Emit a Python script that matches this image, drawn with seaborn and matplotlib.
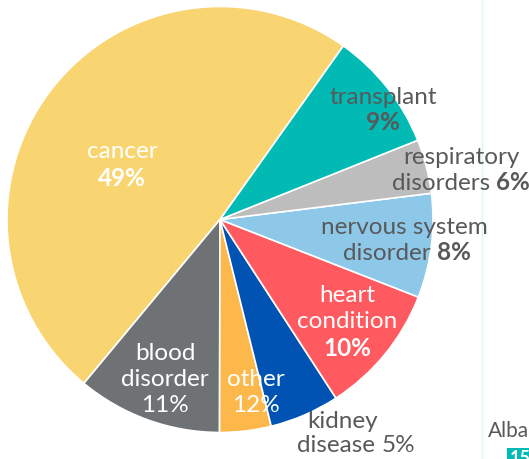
import matplotlib
matplotlib.use("Agg")
import matplotlib.pyplot as plt
from matplotlib.patches import Rectangle
import seaborn as sns

# slice sizes as measured from the wedge angles (counter-clockwise from cancer)
categories = ["cancer", "blood disorder", "other", "kidney disease",
              "heart condition", "nervous system disorder",
              "respiratory disorders", "transplant"]
shares = [48.8, 11.0, 3.9, 5.3, 9.9, 7.9, 4.1, 9.1]
# percentages as printed on the chart
printed = ["49%", "11%", "12%", "5%", "10%", "8%", "6%", "9%"]
colors = ["#F9D572", "#6F7274", "#FDB84C", "#0053B3",
          "#FF5A5F", "#8EC8E8", "#BDBDBD", "#00BAB3"]

W, H = 529, 460
CX, CY, R = 220, 220.5, 213  # pie centre / radius in pixels


def px(x, y):
    # pixel (from top-left) -> data coords of the unit pie
    return (x - CX) / R, (CY - y) / R


sns.set_theme(style="white")
plt.rcParams["font.family"] = ["Lato", "DejaVu Sans"]

fig = plt.figure(figsize=(W / 100, H / 100), dpi=100)
ax = fig.add_axes([0, 0, 1, 1])
ax.pie(shares, colors=colors, startangle=54.6, counterclock=True,
       wedgeprops=dict(edgecolor="white", linewidth=1.2))
ax.set_xlim(px(0, 0)[0], px(W, 0)[0])
ax.set_ylim(px(0, H)[1], px(0, 0)[1])
ax.set_aspect("equal")
ax.axis("off")

dark = "#58595B"
fs = 17.5


def label(lines, color):
    # lines: list of (x, y, [(text, bold), ...])
    for x, y, parts in lines:
        if len(parts) == 1:
            t, b = parts[0]
            ax.text(*px(x, y), t, color=color, fontsize=fs, ha="center", va="center",
                    fontweight="bold" if b else "normal")
        else:
            # regular word followed by (maybe bold) percentage
            t0, _ = parts[0]
            t1, b1 = parts[1]
            rend = fig.canvas.get_renderer()
            txt = ax.text(0, 0, t0, color=color, fontsize=fs, ha="left", va="center")
            t1obj = ax.text(0, 0, t1, color=color, fontsize=fs, ha="left", va="center",
                            fontweight="bold" if b1 else "normal")
            w0 = txt.get_window_extent(rend).width
            w1 = t1obj.get_window_extent(rend).width
            left = x - (w0 + w1) / 2
            txt.set_position(px(left, y))
            t1obj.set_position(px(left + w0, y))


label([(122, 152, [("cancer", False)]), (122, 178, [(printed[0], True)])], "white")
label([(383, 97, [("transplant", False)]), (383, 122, [(printed[7], True)])], dark)
label([(461, 157, [("respiratory", False)]),
       (461, 183, [("disorders ", False), (printed[6], True)])], dark)
label([(404, 228, [("nervous system", False)]),
       (407, 253, [("disorder ", False), (printed[5], True)])], dark)
label([(347, 296, [("heart", False)]), (347, 322, [("condition", False)]),
       (347, 349, [(printed[4], True)])], "white")
label([(343, 421, [("kidney", False)]),
       (356, 446, [("disease ", False), (printed[3], False)])], dark)
label([(256, 380, [("other", False)]), (256, 406, [(printed[2], False)])], "white")
label([(165, 354, [("blood", False)]), (165, 380, [("disorder", False)]),
       (165, 406, [(printed[1], False)])], "white")

# neighbouring panel edge
ax.plot([px(482, 0)[0]] * 2, [px(0, 0)[1], px(0, H)[1]], color="#DDF6F6", lw=1)
ax.text(*px(488, 431), "Alba", color=dark, fontsize=15, ha="left", va="center")
x0, y0 = px(507, H)
x1, y1 = px(W, 449)
ax.add_patch(Rectangle((x0, y0), x1 - x0, y1 - y0, fc="#00BAB3", ec="none", zorder=3))
ax.text(*px(510, 458), "15", color="white", fontsize=13, fontweight="bold",
        ha="left", va="center", zorder=4)

fig.savefig("out.png", dpi=100)
